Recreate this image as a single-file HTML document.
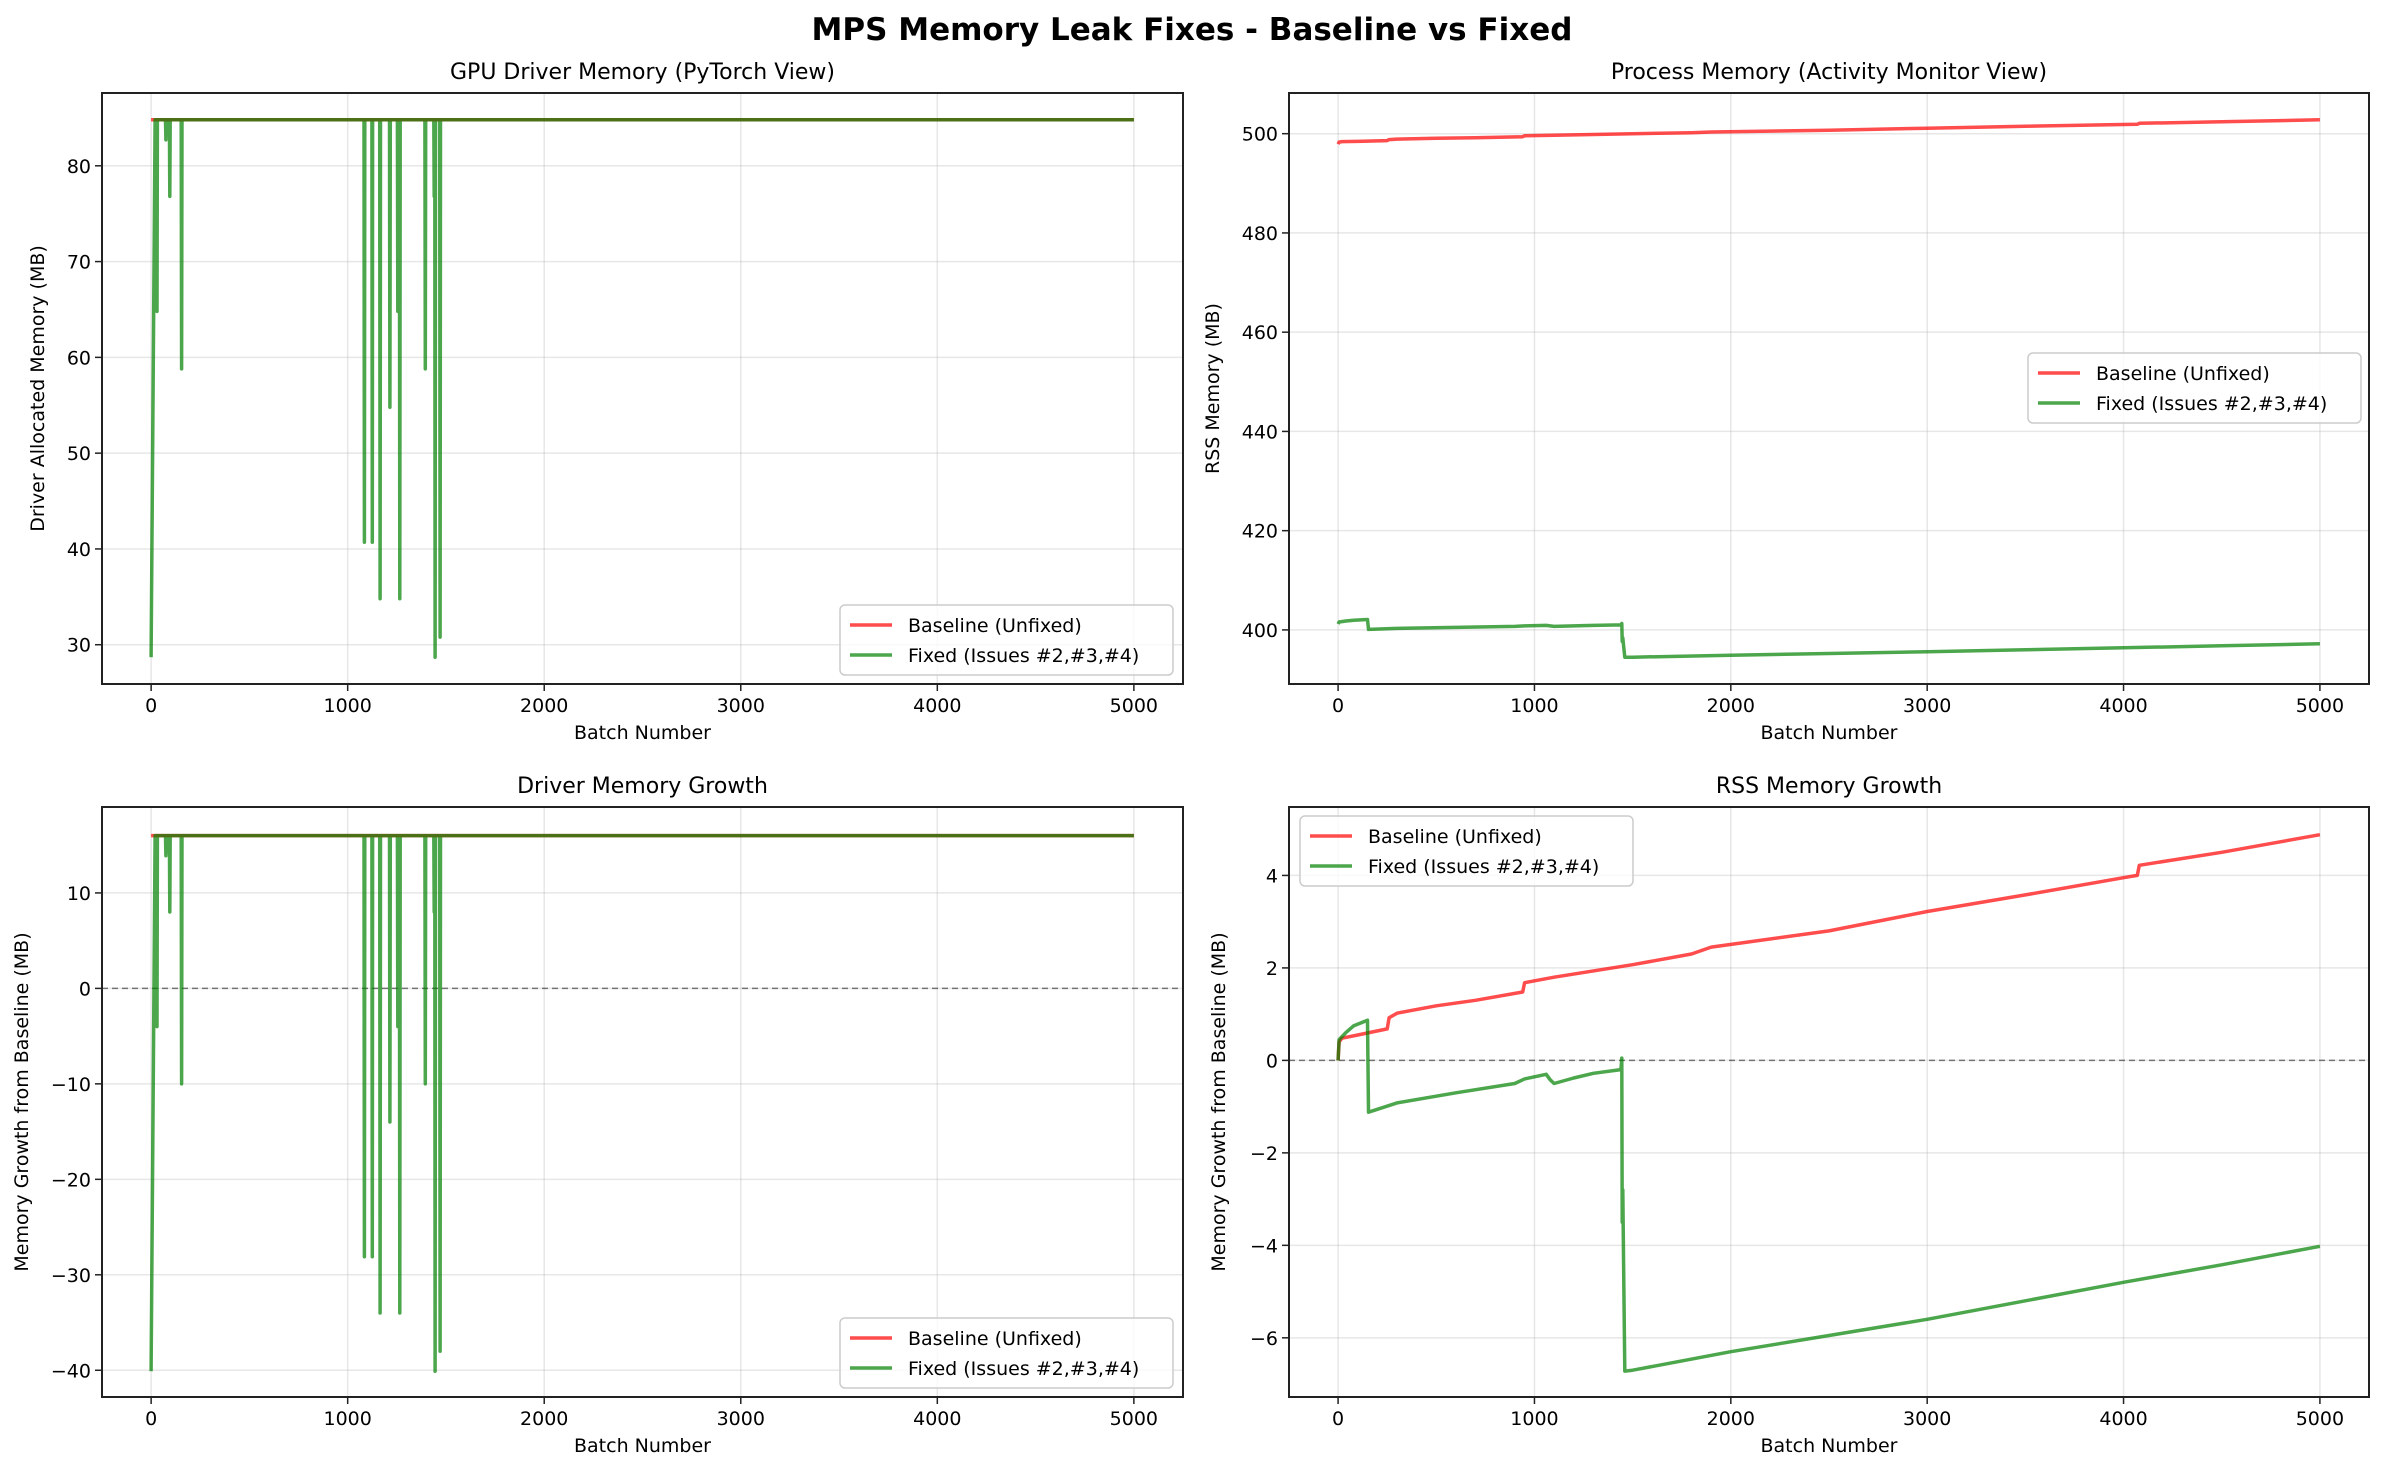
<!DOCTYPE html>
<html><head><meta charset="utf-8"><style>
body{margin:0;background:#fff;}
svg{display:block;font-family:"DejaVu Sans","Liberation Sans",sans-serif;}
</style></head><body>
<svg id="fig" width="2384" height="1475" viewBox="0 0 2384 1475" xmlns="http://www.w3.org/2000/svg">
<rect width="2384" height="1475" fill="#fff"/>
<text x="1192" y="40" text-anchor="middle" font-size="31" font-weight="bold">MPS Memory Leak Fixes - Baseline vs Fixed</text>
</svg>
<script>
// ---- data ----
const xTicks = [0, 1000, 2000, 3000, 4000, 5000];
const driverBaselineLevel = 84.8;
const driverSpikeX = [30, 75, 95, 155, 1085, 1125, 1165, 1215, 1255, 1265, 1395, 1440, 1445, 1470];
const driverSpikeMin = [64.8, 82.7, 76.8, 58.8, 40.7, 40.7, 34.8, 54.8, 64.8, 34.8, 58.8, 76.8, 28.7, 30.8];
const driverFixedStart = 28.7;
const growthBaselineLevel = 16.0;
const growthSpikeMin = [-4.0, 13.9, 8.0, -10.0, -28.1, -28.1, -34.0, -14.0, -4.0, -34.0, -10.0, 8.0, -40.1, -38.0];
const growthFixedStart = -40.1;
const rssX = [0, 5, 20, 100, 250, 260, 300, 500, 700, 940, 950, 1100, 1500, 1800, 1900, 2500, 3000, 3500, 4000, 4070, 4080, 4500, 5000];
const rssBaseline = [497.9, 498.3, 498.4, 498.45, 498.6, 498.8, 498.9, 499.1, 499.2, 499.4, 499.6, 499.7, 500.0, 500.2, 500.35, 500.7, 501.1, 501.5, 501.85, 501.9, 502.1, 502.4, 502.8];
const rssGrowthBaseline = [0, 0.4, 0.48, 0.55, 0.68, 0.92, 1.02, 1.18, 1.3, 1.48, 1.68, 1.8, 2.07, 2.3, 2.45, 2.8, 3.22, 3.58, 3.95, 4.0, 4.22, 4.5, 4.88];
const rssFixedX = [0, 5, 40, 80, 150, 155, 300, 600, 900, 950, 1060, 1080, 1100, 1200, 1300, 1440, 1445, 1447, 1450, 1455, 1460, 1500, 2000, 2500, 3000, 3500, 4000, 4500, 5000];
const rssFixed = [401.2, 401.6, 401.8, 401.95, 402.1, 400.1, 400.3, 400.5, 400.7, 400.8, 400.9, 400.8, 400.7, 400.8, 400.9, 401.0, 401.3, 397.7, 398.4, 396.4, 394.5, 394.5, 394.9, 395.25, 395.6, 396.0, 396.4, 396.8, 397.2];
const rssGrowthFixed = [0, 0.45, 0.6, 0.75, 0.87, -1.12, -0.92, -0.7, -0.5, -0.4, -0.3, -0.42, -0.5, -0.38, -0.28, -0.2, 0.05, -3.5, -2.8, -4.8, -6.72, -6.7, -6.3, -5.95, -5.6, -5.2, -4.8, -4.42, -4.02];

const NS = "http://www.w3.org/2000/svg";
const svg = document.getElementById('fig');
function el(tag, attrs, parent) {
  const e = document.createElementNS(NS, tag);
  for (const k in attrs) e.setAttribute(k, attrs[k]);
  (parent || svg).appendChild(e);
  return e;
}
const RED = "#ff0000", GREEN = "#008000";

function spikeSeries(level, start, xs, mins) {
  const X = [0], Y = [start];
  X.push(20); Y.push(level);
  for (let i = 0; i < xs.length; i++) {
    X.push(xs[i] - 2); Y.push(level);
    X.push(xs[i]); Y.push(mins[i]);
    X.push(xs[i] + 2); Y.push(level);
  }
  X.push(5000); Y.push(level);
  return [X, Y];
}

function panel(p) {
  const g = el('g', {});
  
  
  const L = p.left, R = p.right, T = p.top, B = p.bottom;
  const xs = v => L + (v - (-250)) / 5500 * (R - L);
  const ys = v => B - (v - p.ylim[0]) / (p.ylim[1] - p.ylim[0]) * (B - T);
  // grid
  xTicks.forEach(t => {
    const ln = el('line', {x1: xs(t), x2: xs(t), y1: T, y2: B, stroke: '#b0b0b0', 'stroke-opacity': 0.3, 'stroke-width': 1.5}, g);
    
    
    const tk = el('line', {x1: xs(t), x2: xs(t), y1: B, y2: B + 7, stroke: '#222', 'stroke-width': 1.5}, g);
    
    
    const tl = el('text', {x: xs(t), y: B + 28, 'text-anchor': 'middle', 'font-size': 19}, g);
    tl.textContent = t;
    
    
  });
  p.yTicks.forEach(t => {
    const ln = el('line', {x1: L, x2: R, y1: ys(t), y2: ys(t), stroke: '#b0b0b0', 'stroke-opacity': 0.3, 'stroke-width': 1.5}, g);
    
    
    const tk = el('line', {x1: L - 7, x2: L, y1: ys(t), y2: ys(t), stroke: '#222', 'stroke-width': 1.5}, g);
    
    
    const tl = el('text', {x: L - 11, y: ys(t) + 7, 'text-anchor': 'end', 'font-size': 19}, g);
    tl.textContent = t < 0 ? '\u2212' + Math.abs(t) : t;
    
    
  });
  if (p.zero) {
    const z = el('line', {x1: L, x2: R, y1: ys(0), y2: ys(0), stroke: '#000', 'stroke-opacity': 0.5, 'stroke-width': 1.5, 'stroke-dasharray': '6,4'}, g);
    
    
  }
  const clipId = 'clip-' + p.name;
  const cp = el('clipPath', {id: clipId}, g);
  el('rect', {x: L, y: T, width: R - L, height: B - T}, cp);
  p.series.forEach(s => {
    let d = '';
    for (let i = 0; i < s.x.length; i++) d += (i ? 'L' : 'M') + xs(s.x[i]).toFixed(1) + ',' + ys(s.y[i]).toFixed(1);
    const path = el('path', {d: d, fill: 'none', stroke: s.color, 'stroke-opacity': 0.7, 'stroke-width': 3.5, 'stroke-linejoin': 'round', 'clip-path': 'url(#' + clipId + ')'}, g);
    
    
  });
  const fr = el('rect', {x: L, y: T, width: R - L, height: B - T, fill: 'none', stroke: '#222', 'stroke-width': 2}, g);
  
  
  const ti = el('text', {x: (L + R) / 2, y: T - 14, 'text-anchor': 'middle', 'font-size': 22}, g);
  ti.textContent = p.title;
  
  
  const xl = el('text', {x: (L + R) / 2, y: B + 55, 'text-anchor': 'middle', 'font-size': 19}, g);
  xl.textContent = 'Batch Number';
  
  
  const yl = el('text', {x: 0, y: 0, 'text-anchor': 'middle', 'font-size': 19, transform: 'translate(' + p.ylabelX + ',' + ((T + B) / 2) + ') rotate(-90)'}, g);
  yl.textContent = p.ylabel;
  
  
  // legend
  const lg = el('g', {}, g);
  
  
  const lx = p.legend[0], ly = p.legend[1];
  el('rect', {x: lx, y: ly, width: 333, height: 70, rx: 5, fill: '#fff', 'fill-opacity': 0.8, stroke: '#ccc', 'stroke-width': 1.5}, lg);
  [['Baseline (Unfixed)', RED], ['Fixed (Issues #2,#3,#4)', GREEN]].forEach((e, i) => {
    const cy = ly + 20 + i * 30;
    const ent = el('g', {}, lg);
    
    
    el('line', {x1: lx + 10, x2: lx + 52, y1: cy, y2: cy, stroke: e[1], 'stroke-opacity': 0.7, 'stroke-width': 3.5}, ent);
    const t = el('text', {x: lx + 68, y: cy + 7, 'font-size': 19}, ent);
    t.textContent = e[0];
  });
}

const tl = spikeSeries(driverBaselineLevel, driverFixedStart, driverSpikeX, driverSpikeMin);
const bl = spikeSeries(growthBaselineLevel, growthFixedStart, driverSpikeX, growthSpikeMin);

panel({name: 'gpu-driver-memory-panel', left: 102, right: 1183, top: 93, bottom: 684, ylim: [25.9, 87.6],
  yTicks: [30, 40, 50, 60, 70, 80], title: 'GPU Driver Memory (PyTorch View)', ylabel: 'Driver Allocated Memory (MB)', ylabelX: 44,
  legend: [840, 605],
  series: [{name: 'baseline-line', color: RED, x: [0, 5000], y: [driverBaselineLevel, driverBaselineLevel]},
           {name: 'fixed-line', color: GREEN, x: tl[0], y: tl[1]}]});
panel({name: 'process-memory-panel', left: 1289, right: 2369, top: 93, bottom: 684, ylim: [389.1, 508.2],
  yTicks: [400, 420, 440, 460, 480, 500], title: 'Process Memory (Activity Monitor View)', ylabel: 'RSS Memory (MB)', ylabelX: 1219,
  legend: [2028, 353],
  series: [{name: 'baseline-line', color: RED, x: rssX, y: rssBaseline},
           {name: 'fixed-line', color: GREEN, x: rssFixedX, y: rssFixed}]});
panel({name: 'driver-growth-panel', left: 102, right: 1183, top: 807, bottom: 1397, ylim: [-42.8, 19.0], zero: true,
  yTicks: [-40, -30, -20, -10, 0, 10], title: 'Driver Memory Growth', ylabel: 'Memory Growth from Baseline (MB)', ylabelX: 28,
  legend: [840, 1318],
  series: [{name: 'baseline-line', color: RED, x: [0, 5000], y: [growthBaselineLevel, growthBaselineLevel]},
           {name: 'fixed-line', color: GREEN, x: bl[0], y: bl[1]}]});
panel({name: 'rss-growth-panel', left: 1289, right: 2369, top: 807, bottom: 1397, ylim: [-7.28, 5.48], zero: true,
  yTicks: [-6, -4, -2, 0, 2, 4], title: 'RSS Memory Growth', ylabel: 'Memory Growth from Baseline (MB)', ylabelX: 1225,
  legend: [1300, 816],
  series: [{name: 'baseline-line', color: RED, x: rssX, y: rssGrowthBaseline},
           {name: 'fixed-line', color: GREEN, x: rssFixedX, y: rssGrowthFixed}]});
</script>
</body></html>
